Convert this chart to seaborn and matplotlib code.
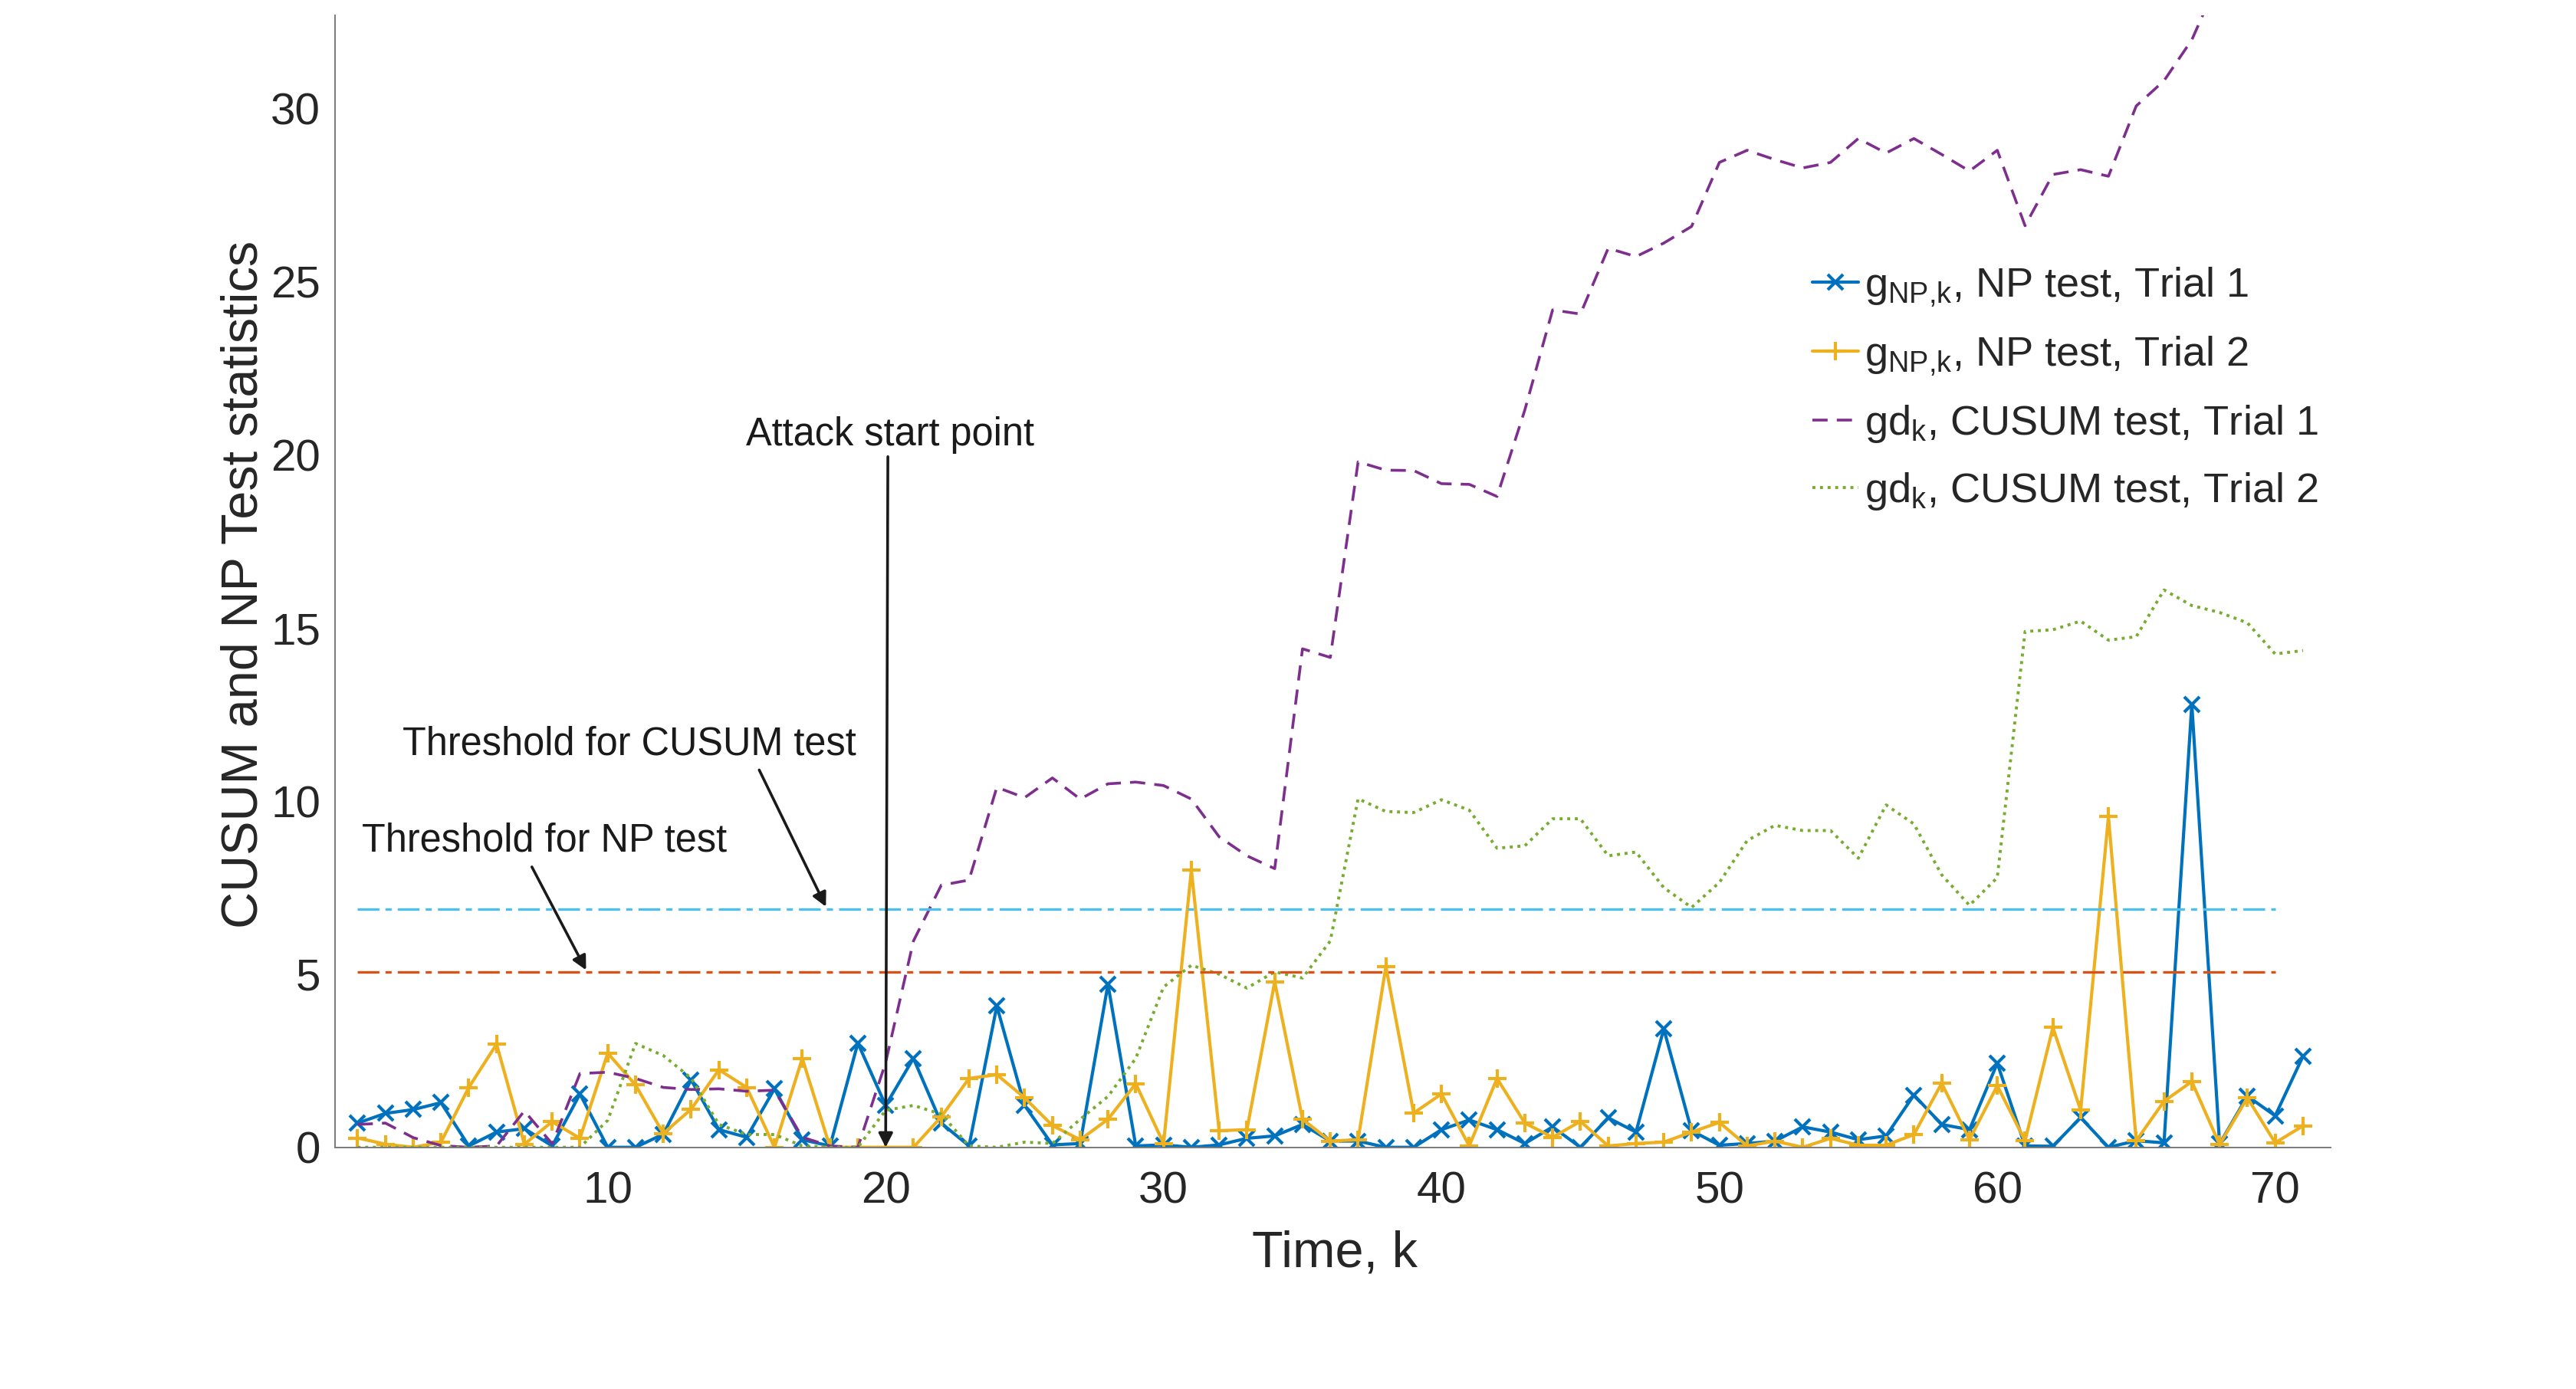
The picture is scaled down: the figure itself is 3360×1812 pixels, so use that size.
import numpy as np
import pandas as pd
import matplotlib
matplotlib.use("Agg")
import matplotlib.pyplot as plt
import seaborn as sns

# ---------------- data ----------------
k = list(range(1, 72))

np_trial1 = [0.70, 0.98, 1.09, 1.29, 0.04, 0.44, 0.54, 0.04, 1.54, 0.00,
             0.00, 0.38, 1.95, 0.51, 0.29, 1.69, 0.22, 0.04, 3.01, 1.21,
             2.57, 0.70, 0.04, 4.08, 1.21, 0.07, 0.11, 4.71, 0.04, 0.07,
             0.00, 0.07, 0.26, 0.33, 0.66, 0.18, 0.18, 0.00, 0.00, 0.51,
             0.79, 0.51, 0.11, 0.59, 0.00, 0.85, 0.44, 3.42, 0.48, 0.06,
             0.11, 0.18, 0.59, 0.44, 0.22, 0.33, 1.51, 0.66, 0.51, 2.43,
             0.04, 0.03, 0.86, 0.00, 0.19, 0.13, 12.80, 0.10, 1.48, 0.91,
             2.63]

np_trial2 = [0.27, 0.09, 0.00, 0.15, 1.73, 2.98, 0.09, 0.74, 0.26, 2.72,
             1.80, 0.40, 1.10, 2.24, 1.73, 0.00, 2.57, 0.00, 0.00, 0.00,
             0.00, 0.88, 1.99, 2.10, 1.43, 0.63, 0.22, 0.81, 1.84, 0.11,
             8.01, 0.48, 0.51, 4.78, 0.81, 0.18, 0.22, 5.22, 0.99, 1.54,
             0.04, 1.99, 0.70, 0.29, 0.75, 0.04, 0.11, 0.15, 0.44, 0.72,
             0.04, 0.18, 0.00, 0.26, 0.06, 0.06, 0.37, 1.85, 0.22, 1.78,
             0.19, 3.46, 1.07, 9.55, 0.19, 1.33, 1.90, 0.08, 1.43, 0.13,
             0.62]

cusum_trial1 = [0.66, 0.70, 0.28, 0.05, 0.00, 0.04, 1.05, 0.10, 2.13, 2.17,
                1.99, 1.73, 1.67, 1.69, 1.62, 1.65, 0.29, 0.04, 0.00, 2.45,
                5.96, 7.57, 7.72, 10.40, 10.10, 10.67, 10.06, 10.50, 10.55, 10.45,
                10.06, 8.97, 8.42, 8.05, 14.40, 14.15, 19.80, 19.56, 19.55, 19.17,
                19.15, 18.80, 21.30, 24.19, 24.07, 25.97, 25.73, 26.12, 26.60, 28.45,
                28.80, 28.53, 28.29, 28.45, 29.14, 28.72, 29.14, 28.68, 28.20, 28.80,
                26.62, 28.10, 28.24, 28.05, 30.08, 30.81, 31.99, 33.80]

cusum_trial2 = [0.00, 0.00, 0.00, 0.00, 0.00, 0.00, 0.00, 0.00, 0.00, 0.78,
                3.00, 2.65, 2.00, 0.66, 0.37, 0.37, 0.04, 0.00, 0.00, 1.07,
                1.21, 0.96, 0.04, 0.00, 0.15, 0.11, 0.81, 1.47, 2.57, 4.63,
                5.26, 5.00, 4.60, 5.07, 4.89, 5.96, 10.07, 9.70, 9.67, 10.04,
                9.74, 8.64, 8.71, 9.49, 9.49, 8.42, 8.53, 7.50, 6.93, 7.65,
                8.86, 9.30, 9.15, 9.15, 8.35, 9.89, 9.34, 7.87, 6.99, 7.79,
                14.90, 14.95, 15.20, 14.65, 14.75, 16.10, 15.65, 15.45, 15.15, 14.25,
                14.35]

threshold_np = 5.07
threshold_cusum = 6.89
threshold_span = [1, 70]
attack_k = 20

labels = [r"$\mathregular{g_{NP{,}k}}$, NP test, Trial 1",
          r"$\mathregular{g_{NP{,}k}}$, NP test, Trial 2",
          r"$\mathregular{gd_{k}}$, CUSUM test, Trial 1",
          r"$\mathregular{gd_{k}}$, CUSUM test, Trial 2"]

# ---------------- style ----------------
sns.set_theme(style="white")
plt.rcParams["font.family"] = ["Liberation Sans", "DejaVu Sans"]
plt.rcParams["mathtext.fontset"] = "custom"
plt.rcParams["mathtext.rm"] = "Liberation Sans"
plt.rcParams["mathtext.it"] = "Liberation Sans:italic"
plt.rcParams["mathtext.bf"] = "Liberation Sans:bold"

c_blue = "#0072BD"
c_orange = "#EDB120"
c_purple = "#7E2F8E"
c_green = "#77AC30"
c_cyan = "#4DBEEE"
c_red = "#D95319"
axis_col = "#7a7a7a"
tick_col = "#262626"

fig = plt.figure(figsize=(16.8, 9.06), dpi=200)
ax = fig.add_axes([0.1302, 0.174, 0.7746, 0.815])

sns.lineplot(x=k, y=np_trial1, ax=ax, color=c_blue, linewidth=1.5,
             marker="x", markersize=7, markeredgewidth=1.5,
             markeredgecolor=c_blue, markerfacecolor=c_blue, label=labels[0])
sns.lineplot(x=k, y=np_trial2, ax=ax, color=c_orange, linewidth=1.5,
             marker="+", markersize=8.5, markeredgewidth=1.5,
             markeredgecolor=c_orange, markerfacecolor=c_orange, label=labels[1])
sns.lineplot(x=k[:len(cusum_trial1)], y=cusum_trial1, ax=ax, color=c_purple,
             linewidth=1.3, linestyle=(0, (5.5, 3.3)), label=labels[2])
sns.lineplot(x=k, y=cusum_trial2, ax=ax, color=c_green, linewidth=1.4,
             linestyle=(0, (1.0, 1.55)), label=labels[3])

ax.hlines(threshold_cusum, threshold_span[0], threshold_span[1], colors=c_cyan,
          linewidth=1.2, linestyles=[(0, (8.5, 2.4, 2.4, 2.4))])
ax.hlines(threshold_np, threshold_span[0], threshold_span[1], colors=c_red,
          linewidth=1.2, linestyles=[(0, (8.5, 2.4, 2.4, 2.4))])

ax.set_xlim(0.2, 72)
ax.set_ylim(0, 32.7)
ax.set_xticks([10, 20, 30, 40, 50, 60, 70])
ax.set_yticks([0, 5, 10, 15, 20, 25, 30])

for s in ["top", "right"]:
    ax.spines[s].set_visible(False)
for s in ["left", "bottom"]:
    ax.spines[s].set_color(axis_col)
    ax.spines[s].set_linewidth(0.7)

ax.tick_params(axis="both", direction="in", length=9, width=0.7,
               color=axis_col, labelcolor=tick_col, labelsize=21)
ax.tick_params(axis="x", pad=11)
ax.tick_params(axis="y", pad=7)

ax.set_xlabel("Time, k", fontsize=24, color=tick_col)
ax.set_ylabel("CUSUM and NP Test statistics", fontsize=24, color=tick_col)
ax.xaxis.set_label_coords(0.501, -0.094)
ax.xaxis.label.set_verticalalignment("center")
ax.yaxis.set_label_coords(-0.0457, 0.497)
ax.yaxis.label.set_verticalalignment("center")

# annotations
arrow_kw = dict(arrowstyle="-|>,head_length=0.55,head_width=0.28", color="k",
                lw=1.3, mutation_scale=10, shrinkA=0, shrinkB=0)
ax.text(1.14, 8.56, "Threshold for NP test", fontsize=18.2, color="k", va="baseline")
ax.annotate("", xy=(9.22, 5.12), xytext=(7.27, 8.1), arrowprops=arrow_kw)
ax.text(2.62, 11.35, "Threshold for CUSUM test", fontsize=18.2, color="k", va="baseline")
ax.annotate("", xy=(17.85, 6.95), xytext=(15.45, 10.9), arrowprops=arrow_kw)
ax.text(20.15, 20.27, "Attack start point", fontsize=18.2, color="k",
        ha="center", va="baseline")
ax.annotate("", xy=(attack_k, 0), xytext=(20.08, 19.95), arrowprops=arrow_kw)

leg = ax.legend(loc="upper left", bbox_to_anchor=(0.7036, 0.809),
                bbox_transform=fig.transFigure, frameon=False, fontsize=19.5,
                handlelength=1.1, handletextpad=0.15, labelspacing=0.62,
                borderpad=0, borderaxespad=0)

fig.savefig("out.png", dpi=200, facecolor="white")
